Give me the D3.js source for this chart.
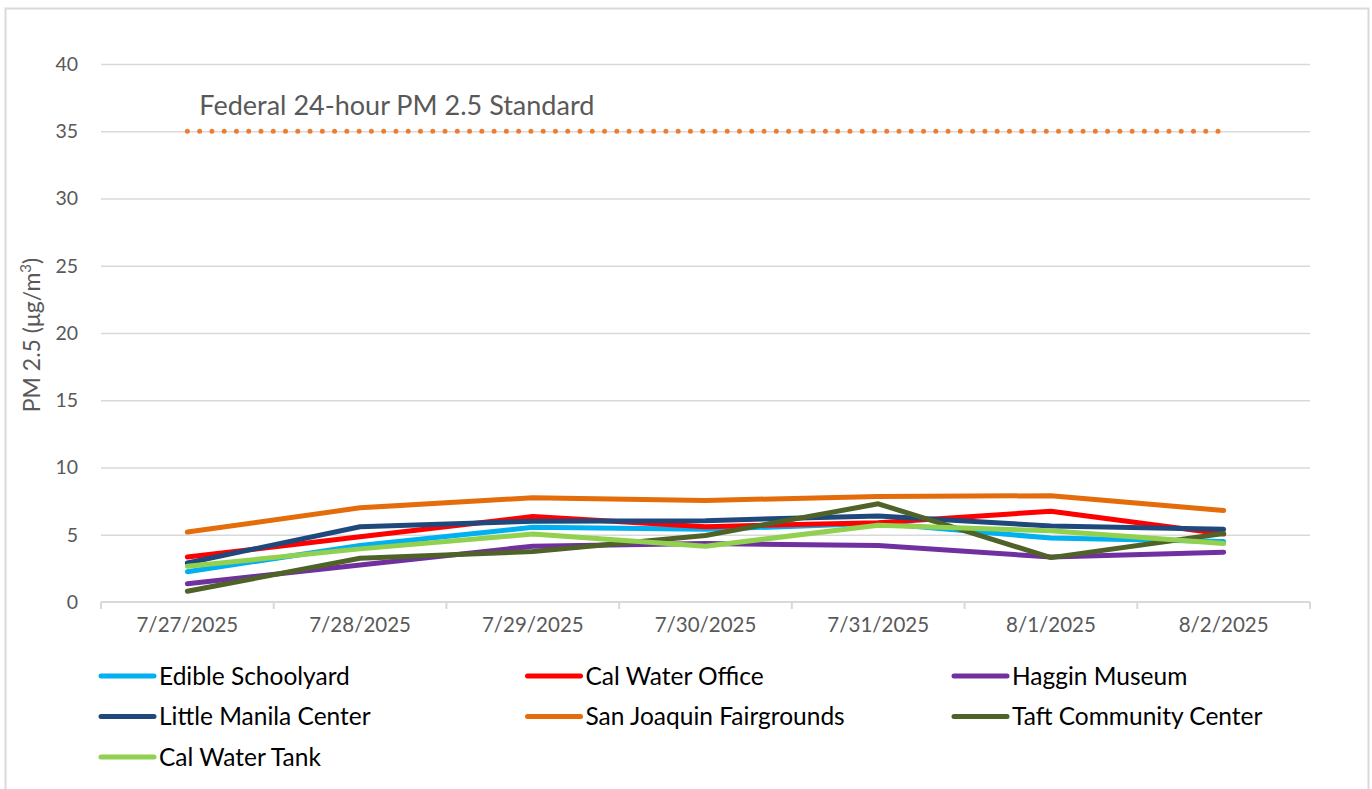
<!DOCTYPE html>
<html>
<head>
<meta charset="utf-8">
<script src="https://cdn.jsdelivr.net/npm/d3@7"></script>
<style>
  body { margin: 0; background: #fff; }
  svg { display: block; font-family: Lato, "Noto Sans", sans-serif; }
</style>
</head>
<body>
<svg id="chart" width="1372" height="789"></svg>
<script>
const dates = ["7/27/2025", "7/28/2025", "7/29/2025", "7/30/2025", "7/31/2025", "8/1/2025", "8/2/2025"];
const yTicks = [0, 5, 10, 15, 20, 25, 30, 35, 40];

const edibleSchoolyard = [2.25, 4.2, 5.55, 5.4, 5.85, 4.75, 4.5];
const calWaterOffice = [3.35, 4.85, 6.35, 5.6, 5.9, 6.75, 5.05];
const hagginMuseum = [1.35, 2.75, 4.15, 4.35, 4.2, 3.35, 3.7];
const littleManila = [2.9, 5.6, 6.0, 6.05, 6.4, 5.65, 5.4];
const fairgrounds = [5.2, 7.0, 7.75, 7.55, 7.85, 7.9, 6.8];
const taftCenter = [0.8, 3.25, 3.75, 4.95, 7.3, 3.3, 5.1];
const calWaterTank = [2.65, 3.95, 5.05, 4.15, 5.7, 5.3, 4.35];
const federalStandard = [35, 35, 35, 35, 35, 35, 35];

const series = [
  { name: "Edible Schoolyard", values: edibleSchoolyard, color: "#00b0f0" },
  { name: "Cal Water Office", values: calWaterOffice, color: "#ff0000" },
  { name: "Haggin Museum", values: hagginMuseum, color: "#7030a0" },
  { name: "Little Manila Center", values: littleManila, color: "#1f497d" },
  { name: "San Joaquin Fairgrounds", values: fairgrounds, color: "#e46c0a" },
  { name: "Taft Community Center", values: taftCenter, color: "#4f6228" },
  { name: "Cal Water Tank", values: calWaterTank, color: "#92d050" },
];

const svg = d3.select("#chart");
const margin = { top: 64, right: 62, bottom: 187, left: 101 };
const W = 1372, H = 789;

// chart frame
svg.append("rect")
  .attr("x", 5.5).attr("y", 8.5)
  .attr("width", 1363).attr("height", 800)
  .attr("fill", "#fff").attr("stroke", "#d9d9d9").attr("stroke-width", 2);

const x = d3.scaleBand().domain(dates).range([margin.left, W - margin.right]).padding(0);
const y = d3.scaleLinear().domain([0, 40]).range([H - margin.bottom, margin.top]);
const cx = (d) => x(d) + x.bandwidth() / 2;

// gridlines
svg.append("g")
  .attr("transform", `translate(${margin.left},0)`)
  .call(d3.axisLeft(y).tickValues(yTicks.slice(1)).tickSize(-(W - margin.left - margin.right)).tickFormat(""))
  .call((g) => g.select(".domain").remove())
  .call((g) => g.selectAll("line").attr("stroke", "#d9d9d9").attr("stroke-width", 1.5));

// y tick labels
svg.append("g")
  .attr("transform", `translate(${margin.left - 20},0)`)
  .call(d3.axisLeft(y).tickValues(yTicks).tickSize(0))
  .call((g) => g.select(".domain").remove())
  .call((g) => g.selectAll("text")
    .attr("font-size", 19.5)
    .attr("font-family", "Lato, sans-serif")
    .attr("fill", "#595959"));

// x axis line with boundary ticks
const xAxisY = y(0);
svg.append("line")
  .attr("x1", margin.left).attr("x2", W - margin.right)
  .attr("y1", xAxisY).attr("y2", xAxisY)
  .attr("stroke", "#d9d9d9").attr("stroke-width", 2);
const boundaries = dates.map((d) => x(d)).concat([x(dates[dates.length - 1]) + x.bandwidth()]);
svg.selectAll(".xtick")
  .data(boundaries)
  .enter()
  .append("line")
  .attr("class", "xtick")
  .attr("x1", (d) => d).attr("x2", (d) => d)
  .attr("y1", xAxisY).attr("y2", xAxisY + 7)
  .attr("stroke", "#d9d9d9").attr("stroke-width", 2);

svg.append("g")
  .attr("transform", `translate(0,${xAxisY + 12})`)
  .call(d3.axisBottom(x).tickSize(0))
  .call((g) => g.select(".domain").remove())
  .call((g) => g.selectAll("text")
    .attr("font-size", 20.5)
    .attr("font-family", "Lato, sans-serif")
    .attr("fill", "#595959"));

// y axis title
svg.append("text")
  .attr("transform", `translate(40,${y(20) + 2}) rotate(-90)`)
  .attr("text-anchor", "middle")
  .attr("font-size", 23)
  .attr("fill", "#595959")
  .html('PM 2.5 (μg/m<tspan dy="-9" font-size="15">3</tspan><tspan dy="9">)</tspan>');

// federal standard dotted line
const line = d3.line().x((d, i) => cx(dates[i])).y((d) => y(d));
svg.append("path")
  .datum(federalStandard)
  .attr("fill", "none")
  .attr("stroke", "#ed7d31")
  .attr("stroke-width", 5)
  .attr("stroke-linecap", "round")
  .attr("stroke-dasharray", "0 12.27")
  .attr("d", line);

svg.append("text")
  .attr("x", cx(dates[0]) + 12)
  .attr("y", y(35) - 16)
  .attr("font-size", 27)
  .attr("fill", "#595959")
  .text("Federal 24-hour PM 2.5 Standard");

// series lines
svg.selectAll(".series")
  .data(series)
  .enter()
  .append("path")
  .attr("class", "series")
  .attr("fill", "none")
  .attr("stroke", (d) => d.color)
  .attr("stroke-width", 5)
  .attr("stroke-linecap", "round")
  .attr("stroke-linejoin", "round")
  .attr("d", (d) => line(d.values));

// legend
const legend = svg.append("g");
const items = legend.selectAll(".legend-item")
  .data(series)
  .enter()
  .append("g")
  .attr("class", "legend-item")
  .attr("transform", (d, i) => `translate(${101 + (i % 3) * 426.5},${676 + Math.floor(i / 3) * 40.5})`);
items.append("line")
  .attr("x1", 0).attr("x2", 53)
  .attr("stroke", (d) => d.color)
  .attr("stroke-width", 5)
  .attr("stroke-linecap", "round");
items.append("text")
  .attr("x", 58)
  .attr("dy", "0.35em")
  .attr("font-size", 24.5)
  .attr("fill", "#000")
  .text((d) => d.name);
</script>
</body>
</html>
